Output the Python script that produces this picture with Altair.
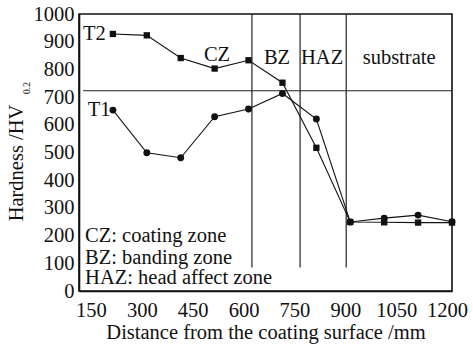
import altair as alt
import pandas as pd

# ---- data ----
distance = [200, 300, 400, 500, 600, 700, 800, 900, 1000, 1100, 1200]
t1_hardness = [653, 499, 481, 629, 657, 713, 621, 249, 263, 274, 250]
t2_hardness = [928, 923, 841, 803, 833, 752, 517, 249, 248, 247, 247]

x_ticks = [150, 300, 450, 600, 750, 900, 1050, 1200]
y_ticks = [0, 100, 200, 300, 400, 500, 600, 700, 800, 900, 1000]

zone_bounds = [610, 752, 888]
zone_line_bottom = 85
hline_value = 723
hline_start = 112

zone_names = ["CZ", "BZ", "HAZ", "substrate"]
zone_name_x = [507, 684, 817, 1044]
zone_name_y = [852, 841, 841, 841]

series_names = ["T1", "T2"]
series_label_x = [126, 112]
series_label_y = [653, 928]

legend_lines = ["CZ: coating zone", "BZ: banding zone", "HAZ: head affect zone"]
legend_y = [199, 119, 47]
legend_x = 118

FONT = "Liberation Serif"
FS = 20.5
INK = "#111111"

t1_df = pd.DataFrame({"x": distance, "y": t1_hardness})
t2_df = pd.DataFrame({"x": distance, "y": t2_hardness})

xs = alt.Scale(domain=[100, 1200], nice=False, zero=False)
ys = alt.Scale(domain=[0, 1000], nice=False)

xax = alt.Axis(values=x_ticks, ticks=False, grid=False, labelOffset=-5, labelPadding=9,
               format="d", labelOverlap=False, labelFlush=False,
               title="Distance from the coating surface /mm", titlePadding=2)
yax = alt.Axis(values=y_ticks, ticks=False, grid=False, labelPadding=5, title=None,
               format="d", labelOverlap=False, labelFlush=False, labelBound=False)


def X(field="x"):
    return alt.X(f"{field}:Q", scale=xs, axis=xax)


def Y(field="y"):
    return alt.Y(f"{field}:Q", scale=ys, axis=yax)


base1 = alt.Chart(t1_df)
base2 = alt.Chart(t2_df)

line1 = base1.mark_line(color=INK, strokeWidth=1.1).encode(x=X(), y=Y())
pts1 = base1.mark_point(shape="circle", filled=True, size=48, color=INK, opacity=1).encode(x=X(), y=Y())
line2 = base2.mark_line(color=INK, strokeWidth=1.1).encode(x=X(), y=Y())
pts2 = base2.mark_point(shape="square", filled=True, size=40, color=INK, opacity=1).encode(x=X(), y=Y())

vlines = alt.Chart(pd.DataFrame({"x": zone_bounds, "y": [zone_line_bottom] * 3,
                                 "y2": [1000] * 3})).mark_rule(color="#222222", strokeWidth=1.2).encode(
    x=X(), y=Y(), y2="y2:Q")
hline = alt.Chart(pd.DataFrame({"x": [hline_start], "x2": [1200], "y": [hline_value]})).mark_rule(
    color="#222222", strokeWidth=1.2).encode(x=X(), x2="x2:Q", y=Y())

zones = alt.Chart(pd.DataFrame({"x": zone_name_x, "y": zone_name_y, "t": zone_names})).mark_text(
    font=FONT, fontSize=FS, color=INK, align="center", baseline="middle").encode(
    x=X(), y=Y(), text="t:N")

series_lab = alt.Chart(pd.DataFrame({"x": series_label_x, "y": series_label_y, "t": series_names})).mark_text(
    font=FONT, fontSize=FS, color=INK, align="left", baseline="middle").encode(
    x=X(), y=Y(), text="t:N")

legend = alt.Chart(pd.DataFrame({"x": [legend_x] * 3, "y": legend_y, "t": legend_lines})).mark_text(
    font=FONT, fontSize=FS, color=INK, align="left", baseline="middle").encode(
    x=X(), y=Y(), text="t:N")

# y-axis title with subscript
ytitle = alt.Chart(pd.DataFrame({"t": ["Hardness /HV"]})).mark_text(
    font=FONT, fontSize=FS, color=INK, angle=270, align="center", baseline="alphabetic").encode(
    x=alt.value(-56), y=alt.value(149), text="t:N")
ysub = alt.Chart(pd.DataFrame({"t": ["0.2"]})).mark_text(
    font=FONT, fontSize=9.5, color=INK, angle=270, align="center", baseline="alphabetic").encode(
    x=alt.value(-49), y=alt.value(74), text="t:N")

chart = alt.layer(vlines, hline, line1, line2, pts1, pts2, zones, series_lab, legend, ytitle, ysub).properties(
    width=373, height=277,
    autosize=alt.AutoSizeParams(type="none"),
    padding={"left": 79, "top": 14, "right": 21, "bottom": 55},
    background="white",
).configure_view(stroke=INK, strokeWidth=1.6).configure_axis(
    labelFont=FONT, labelFontSize=FS, labelColor=INK, labelOverlap=False,
    titleFont=FONT, titleFontSize=FS, titleColor=INK, titleFontWeight="normal",
    domainColor=INK, domainWidth=1.6,
)

chart.save("out.html", embed_options={"renderer": "svg", "actions": False})
